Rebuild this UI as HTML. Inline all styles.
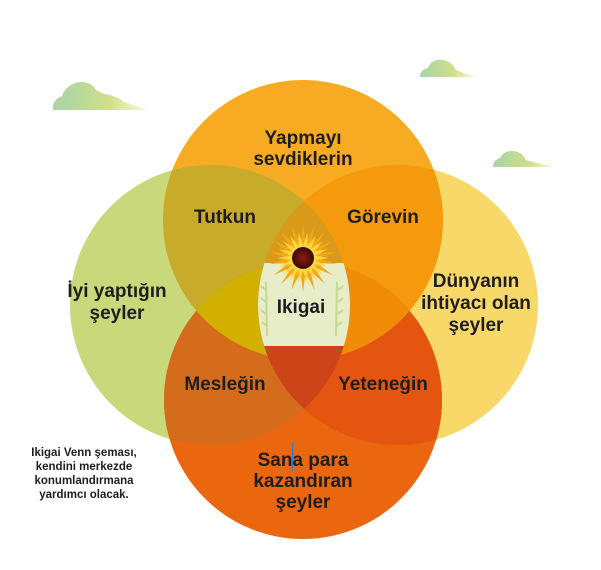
<!DOCTYPE html>
<html><head><meta charset="utf-8"><style>
html,body{margin:0;padding:0;background:#fff;}
svg{display:block}
text{font-family:"Liberation Sans","DejaVu Sans",sans-serif;font-weight:bold;fill:#1e1e1e;text-anchor:middle}
</style></head><body>
<svg width="601" height="570" viewBox="0 0 601 570" xmlns="http://www.w3.org/2000/svg">
<defs>
<linearGradient id="cl" x1="0" x2="1"><stop offset="0" stop-color="#a9d3a8"/><stop offset="0.6" stop-color="#cfdf8a"/><stop offset="1" stop-color="#ece89a" stop-opacity="0.4"/></linearGradient>
<radialGradient id="sc"><stop offset="0" stop-color="#8a1c10"/><stop offset="1" stop-color="#3a0c06"/></radialGradient>
<clipPath id="cT"><circle cx="303" cy="220" r="140"/></clipPath>
<clipPath id="cL"><circle cx="210" cy="305" r="140"/></clipPath>
<clipPath id="cR"><circle cx="398" cy="305" r="140"/></clipPath>
<clipPath id="cB"><circle cx="303" cy="400" r="139"/></clipPath>
</defs>
<g fill="url(#cl)">
<path d="M53 110 Q52 100 62 96 Q66 84 80 82 Q92 82 96 90 Q100 92 104 94 Q118 96 124 102 Q136 106 148 110 Z"/>
<path d="M420 77 Q420 70 428 68 Q432 58 444 60 Q452 62 456 70 Q466 74 476 77 Z"/>
<path d="M493 167 Q493 160 500 158 Q504 150 514 151 Q522 152 526 160 Q540 164 555 167 Z"/>
</g>
<circle cx="210" cy="305" r="140" fill="#c8d87a"/>
<circle cx="398" cy="305" r="140" fill="#f8d868"/>
<circle cx="303" cy="220" r="140" fill="#f7ab22"/>
<circle cx="303" cy="400" r="139" fill="#ea660f"/>
<g clip-path="url(#cT)"><circle cx="210" cy="305" r="140" fill="#c9ab2b"/><circle cx="398" cy="305" r="140" fill="#f59a0c"/></g>
<g clip-path="url(#cB)"><circle cx="210" cy="305" r="140" fill="#d46c1c"/><circle cx="398" cy="305" r="140" fill="#e4560f"/></g>
<g clip-path="url(#cT)"><circle cx="303" cy="400" r="139" fill="#ee7a10"/></g>
<g clip-path="url(#cT)"><g clip-path="url(#cL)"><circle cx="398" cy="305" r="140" fill="#d99a1a"/><circle cx="303" cy="400" r="139" fill="#d2b000"/></g></g>
<g clip-path="url(#cT)"><g clip-path="url(#cR)"><circle cx="303" cy="400" r="139" fill="#f08c08"/></g></g>
<g clip-path="url(#cB)"><g clip-path="url(#cL)"><circle cx="398" cy="305" r="140" fill="#cc4418"/></g></g>
<g clip-path="url(#cT)"><g clip-path="url(#cL)"><g clip-path="url(#cR)"><rect x="250" y="263" width="110" height="83" rx="10" fill="#e7edc9"/></g></g></g>
<g stroke="#c5d890" stroke-width="2" fill="none">
<path d="M266 282 L267 336 M337 282 L336 336"/>
<path d="M266 290 l-5 -4 M266 302 l-5 -4 M266 314 l-5 -4 M267 326 l-5 -4 M338 290 l5 -4 M338 302 l5 -4 M338 314 l5 -4 M337 326 l5 -4"/>
</g>
<g transform="translate(303,258)">
<g fill="#f5a813">
<path id="p" d="M-3.5 -8 L0 -34 L3.5 -8 Z"/>
<use href="#p" transform="rotate(20)"/><use href="#p" transform="rotate(40)"/><use href="#p" transform="rotate(60)"/><use href="#p" transform="rotate(80)"/><use href="#p" transform="rotate(100)"/><use href="#p" transform="rotate(120)"/><use href="#p" transform="rotate(140)"/><use href="#p" transform="rotate(160)"/><use href="#p" transform="rotate(180)"/><use href="#p" transform="rotate(200)"/><use href="#p" transform="rotate(220)"/><use href="#p" transform="rotate(240)"/><use href="#p" transform="rotate(260)"/><use href="#p" transform="rotate(280)"/><use href="#p" transform="rotate(300)"/><use href="#p" transform="rotate(320)"/><use href="#p" transform="rotate(340)"/>
</g>
<g fill="#fcd640" transform="rotate(10)">
<path id="q" d="M-3 -8 L0 -26 L3 -8 Z"/>
<use href="#q" transform="rotate(20)"/><use href="#q" transform="rotate(40)"/><use href="#q" transform="rotate(60)"/><use href="#q" transform="rotate(80)"/><use href="#q" transform="rotate(100)"/><use href="#q" transform="rotate(120)"/><use href="#q" transform="rotate(140)"/><use href="#q" transform="rotate(160)"/><use href="#q" transform="rotate(180)"/><use href="#q" transform="rotate(200)"/><use href="#q" transform="rotate(220)"/><use href="#q" transform="rotate(240)"/><use href="#q" transform="rotate(260)"/><use href="#q" transform="rotate(280)"/><use href="#q" transform="rotate(300)"/><use href="#q" transform="rotate(320)"/><use href="#q" transform="rotate(340)"/>
</g>
<circle r="11" fill="url(#sc)"/>
</g>
<g font-size="19">
<text x="303" y="144">Yapmayı</text>
<text x="303" y="165">sevdiklerin</text>
<text x="225" y="223">Tutkun</text>
<text x="383" y="223">Görevin</text>
<text x="117" y="297">İyi yaptığın</text>
<text x="117" y="319">şeyler</text>
<text x="476" y="287">Dünyanın</text>
<text x="476" y="309">ihtiyacı olan</text>
<text x="476" y="331">şeyler</text>
<text x="301" y="313">Ikigai</text>
<text x="225" y="390">Mesleğin</text>
<text x="383" y="390">Yeteneğin</text>
<text x="303" y="466">Sana para</text>
<text x="303" y="487">kazandıran</text>
<text x="303" y="508">şeyler</text>
</g>
<line x1="292.5" y1="443" x2="292.5" y2="471" stroke="#2a7fd0" stroke-width="1.2"/>
<g font-size="11.5">
<text x="84" y="456">Ikigai Venn şeması,</text>
<text x="84" y="470">kendini merkezde</text>
<text x="84" y="484">konumlandırmana</text>
<text x="84" y="498">yardımcı olacak.</text>
</g>
</svg>
</body></html>
